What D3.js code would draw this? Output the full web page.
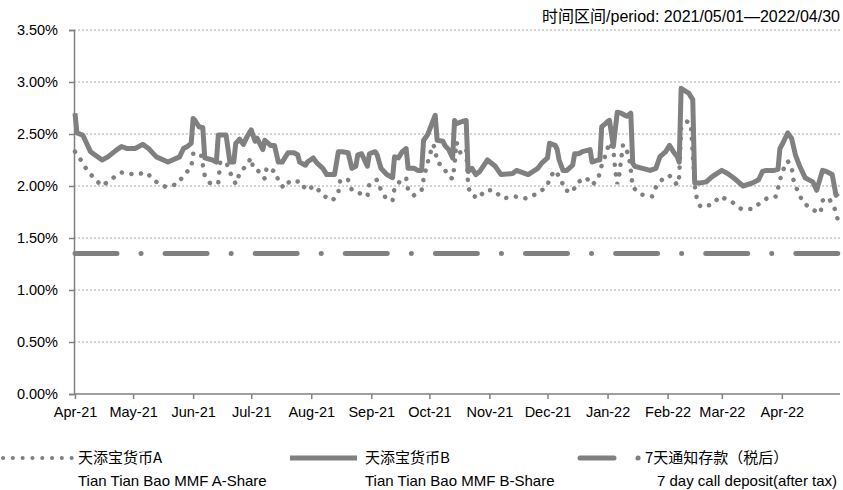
<!DOCTYPE html>
<html>
<head>
<meta charset="utf-8">
<script src="https://cdn.jsdelivr.net/npm/d3@7"></script>
<style>
    body { margin: 0; background: #fff; }
    #chart { width: 843px; height: 490px; }
    text { font-family: "Liberation Sans", "Noto Sans CJK SC", sans-serif; fill: #000; }
    .cjk { font-family: "Noto Sans CJK SC", sans-serif; }
</style>
</head>
<body>
<div id="chart"></div>
<script>

// series A: Tian Tian Bao MMF A-Share (7 day annualised, %)
const aDates = ["2021-04-01","2021-04-04","2021-04-07","2021-04-11","2021-04-15","2021-04-20","2021-04-25","2021-05-02","2021-05-08","2021-05-12",
    "2021-05-18","2021-05-24","2021-05-27","2021-05-31","2021-06-01","2021-06-05","2021-06-07","2021-06-10","2021-06-14","2021-06-15",
    "2021-06-18","2021-06-21","2021-06-23","2021-06-25","2021-06-28","2021-07-01","2021-07-02","2021-07-06","2021-07-08","2021-07-09",
    "2021-07-14","2021-07-15","2021-07-18","2021-07-21","2021-07-27","2021-07-29","2021-08-03","2021-08-07","2021-08-12","2021-08-15",
    "2021-08-16","2021-08-20","2021-08-22","2021-08-26","2021-08-30","2021-08-31","2021-09-04","2021-09-06","2021-09-09","2021-09-12",
    "2021-09-13","2021-09-16","2021-09-19","2021-09-20","2021-09-23","2021-09-27","2021-09-28","2021-10-01","2021-10-03","2021-10-04",
    "2021-10-05","2021-10-08","2021-10-11","2021-10-13","2021-10-14","2021-10-15","2021-10-17","2021-10-20","2021-10-21","2021-10-22",
    "2021-10-26","2021-10-30","2021-11-03","2021-11-08","2021-11-14","2021-11-20","2021-11-26","2021-12-01","2021-12-02","2021-12-05",
    "2021-12-08","2021-12-10","2021-12-14","2021-12-16","2021-12-21","2021-12-24","2021-12-27","2021-12-29","2021-12-31","2022-01-02",
    "2022-01-04","2022-01-05","2022-01-06","2022-01-07","2022-01-09","2022-01-12","2022-01-13","2022-01-14","2022-01-18","2022-01-24",
    "2022-01-26","2022-01-30","2022-02-02","2022-02-06","2022-02-07","2022-02-08","2022-02-11","2022-02-13","2022-02-15","2022-02-16",
    "2022-02-18","2022-02-24","2022-02-28","2022-03-06","2022-03-11","2022-03-17","2022-03-21","2022-03-25","2022-03-29","2022-03-31",
    "2022-04-01","2022-04-04","2022-04-06","2022-04-07","2022-04-09","2022-04-12","2022-04-17","2022-04-21","2022-04-22","2022-04-25",
    "2022-04-28","2022-04-30"];
const aValues = [2.33,2.25,2.16,2.07,2.00,2.07,2.13,2.11,2.13,2.05,
    1.99,2.02,2.10,2.18,2.31,2.31,2.10,2.02,2.03,2.23,
    2.23,2.09,2.02,2.12,2.19,2.27,2.17,2.13,2.07,2.18,
    2.13,2.04,1.98,2.05,2.04,1.96,2.00,1.91,1.86,1.94,
    2.06,2.06,1.96,1.93,1.90,2.02,2.06,1.96,1.87,1.86,
    1.98,2.05,2.08,1.96,1.91,1.96,2.07,2.29,2.40,2.35,
    2.23,2.19,2.09,2.07,2.20,2.42,2.32,2.36,2.01,1.93,
    1.88,1.96,1.96,1.88,1.90,1.88,1.93,2.00,2.08,2.15,
    2.06,1.96,1.94,2.03,2.08,2.01,2.06,2.20,2.30,2.42,
    2.35,2.15,2.02,2.10,2.40,2.30,2.15,1.99,1.92,1.90,
    1.99,2.08,2.10,2.01,2.09,2.55,2.62,2.60,2.01,1.89,
    1.80,1.82,1.90,1.85,1.78,1.78,1.84,1.89,1.90,2.05,
    2.13,2.24,2.19,2.06,1.96,1.84,1.77,1.74,1.86,1.89,
    1.80,1.67];

// series B: Tian Tian Bao MMF B-Share
const bDates = ["2021-04-01","2021-04-02","2021-04-05","2021-04-09","2021-04-15","2021-04-18","2021-04-22","2021-04-25","2021-04-28","2021-05-02",
    "2021-05-06","2021-05-09","2021-05-13","2021-05-19","2021-05-25","2021-05-27","2021-05-29","2021-05-31","2021-06-01","2021-06-02",
    "2021-06-04","2021-06-06","2021-06-07","2021-06-11","2021-06-13","2021-06-14","2021-06-18","2021-06-20","2021-06-22","2021-06-23",
    "2021-06-25","2021-06-27","2021-06-29","2021-07-01","2021-07-03","2021-07-04","2021-07-07","2021-07-08","2021-07-11","2021-07-13",
    "2021-07-15","2021-07-17","2021-07-20","2021-07-23","2021-07-25","2021-07-26","2021-07-29","2021-07-30","2021-08-02","2021-08-04",
    "2021-08-07","2021-08-09","2021-08-13","2021-08-15","2021-08-17","2021-08-20","2021-08-22","2021-08-24","2021-08-25","2021-08-27",
    "2021-08-29","2021-08-30","2021-08-31","2021-09-03","2021-09-04","2021-09-06","2021-09-09","2021-09-12","2021-09-13","2021-09-15",
    "2021-09-17","2021-09-19","2021-09-20","2021-09-23","2021-09-25","2021-09-27","2021-09-28","2021-09-30","2021-10-04","2021-10-05",
    "2021-10-08","2021-10-09","2021-10-11","2021-10-13","2021-10-14","2021-10-15","2021-10-18","2021-10-20","2021-10-21","2021-10-23",
    "2021-10-25","2021-10-27","2021-10-31","2021-11-04","2021-11-07","2021-11-13","2021-11-15","2021-11-21","2021-11-26","2021-11-28",
    "2021-12-01","2021-12-02","2021-12-05","2021-12-06","2021-12-07","2021-12-09","2021-12-11","2021-12-14","2021-12-15","2021-12-17",
    "2021-12-19","2021-12-21","2021-12-23","2021-12-24","2021-12-27","2021-12-28","2021-12-29","2021-12-31","2022-01-01","2022-01-02",
    "2022-01-04","2022-01-06","2022-01-08","2022-01-11","2022-01-13","2022-01-14","2022-01-15","2022-01-19","2022-01-23","2022-01-26",
    "2022-01-28","2022-01-31","2022-02-02","2022-02-04","2022-02-06","2022-02-07","2022-02-08","2022-02-12","2022-02-14","2022-02-15",
    "2022-02-18","2022-02-21","2022-02-24","2022-03-01","2022-03-04","2022-03-07","2022-03-12","2022-03-17","2022-03-20","2022-03-22",
    "2022-03-24","2022-03-28","2022-03-30","2022-03-31","2022-04-02","2022-04-04","2022-04-06","2022-04-08","2022-04-10","2022-04-13",
    "2022-04-17","2022-04-19","2022-04-22","2022-04-24","2022-04-27","2022-04-29","2022-04-30"];
const bValues = [2.70,2.51,2.49,2.33,2.25,2.28,2.34,2.38,2.36,2.36,
    2.40,2.36,2.28,2.23,2.28,2.36,2.38,2.41,2.65,2.63,
    2.57,2.56,2.27,2.25,2.23,2.49,2.49,2.23,2.23,2.41,
    2.45,2.40,2.48,2.54,2.43,2.46,2.35,2.44,2.39,2.39,
    2.23,2.23,2.32,2.32,2.30,2.23,2.20,2.23,2.27,2.22,
    2.17,2.11,2.11,2.33,2.33,2.32,2.17,2.19,2.30,2.31,
    2.23,2.19,2.31,2.33,2.30,2.17,2.11,2.08,2.28,2.27,
    2.33,2.36,2.17,2.17,2.15,2.15,2.44,2.49,2.68,2.44,
    2.43,2.39,2.35,2.27,2.63,2.60,2.62,2.63,2.14,2.17,
    2.11,2.14,2.25,2.19,2.11,2.12,2.15,2.11,2.17,2.22,
    2.27,2.41,2.39,2.35,2.25,2.15,2.15,2.20,2.31,2.31,
    2.33,2.34,2.35,2.23,2.25,2.25,2.57,2.60,2.62,2.63,
    2.38,2.71,2.70,2.67,2.70,2.22,2.19,2.17,2.15,2.17,
    2.28,2.33,2.39,2.33,2.28,2.23,2.94,2.89,2.83,2.03,
    2.03,2.04,2.09,2.15,2.12,2.08,2.00,2.03,2.06,2.14,
    2.15,2.15,2.16,2.36,2.43,2.51,2.46,2.30,2.20,2.08,
    2.04,1.96,2.15,2.14,2.11,1.91,1.93];

// 7 day call deposit (after tax), flat
const callDates = ["2021-04-01", "2022-04-30"];
const callValues = [1.35, 1.35];

const yTicks = [0, 0.5, 1, 1.5, 2, 2.5, 3, 3.5];

const legendItems = [
    {cn: "天添宝货币A", en: "Tian Tian Bao MMF A-Share", key: "a"},
    {cn: "天添宝货币B", en: "Tian Tian Bao MMF B-Share", key: "b"},
    {cn: "7天通知存款（税后）", en: "7 day call deposit(after tax)", key: "c"}
];

const parse = d3.timeParse("%Y-%m-%d");
const seriesA = aDates.map((d, i) => ({date: parse(d), v: aValues[i]}));
const seriesB = bDates.map((d, i) => ({date: parse(d), v: bValues[i]}));
const seriesC = callDates.map((d, i) => ({date: parse(d), v: callValues[i]}));

const width = 843;
const height = 490;
const margin = {top: 30, left: 74, right: 5, bottom: 96};
const grey = "#808080";

const canvas = d3.select("#chart")
    .append("svg")
    .attr("width", width)
    .attr("height", height);

const xScale = d3.scaleTime()
    .domain([parse("2021-04-01"), parse("2022-04-30")])
    .range([75, 838]);

const yScale = d3.scaleLinear()
    .domain([0, 3.5])
    .range([height - margin.bottom, margin.top]);

/* gridlines */
canvas.append("g")
    .selectAll("line")
    .data(yTicks.filter(d => d > 0))
    .enter()
    .append("line")
        .attr("x1", margin.left)
        .attr("x2", 840)
        .attr("y1", d => yScale(d))
        .attr("y2", d => yScale(d))
        .attr("stroke", "#a6a6a6")
        .attr("stroke-width", 1)
        .attr("stroke-dasharray", "2,2");

/* axes */
const yAxis = canvas.append("g")
    .attr("transform", `translate(${margin.left},0)`)
    .call(d3.axisLeft(yScale).tickValues(yTicks).tickSize(5).tickPadding(11)
        .tickFormat(d => d3.format(".2f")(d) + "%"));

const xAxis = canvas.append("g")
    .attr("transform", `translate(0,${height - margin.bottom})`)
    .call(d3.axisBottom(xScale).ticks(d3.timeMonth.every(1)).tickSize(5).tickPadding(8)
        .tickFormat(d3.timeFormat("%b-%y")));

xAxis.select(".domain").attr("d", `M${margin.left},0H840`);

canvas.selectAll(".domain, .tick line")
    .attr("stroke", grey)
    .attr("stroke-width", 1.5);

canvas.selectAll(".tick text")
    .attr("fill", "#000")
    .style("font-size", "14.5px");

/* lines */
const line = d3.line()
    .x(d => xScale(d.date))
    .y(d => yScale(d.v));

canvas.append("path")
    .datum(seriesC)
    .attr("d", line)
    .attr("fill", "none")
    .attr("stroke", grey)
    .attr("stroke-width", 5)
    .attr("stroke-linecap", "round")
    .attr("stroke-dasharray", "42,24,0.1,24");

canvas.append("path")
    .datum(seriesB)
    .attr("d", line)
    .attr("fill", "none")
    .attr("stroke", grey)
    .attr("stroke-width", 5)
    .attr("stroke-linejoin", "round");

canvas.append("path")
    .datum(seriesA)
    .attr("d", line)
    .attr("fill", "none")
    .attr("stroke", grey)
    .attr("stroke-width", 4.5)
    .attr("stroke-linecap", "round")
    .attr("stroke-dasharray", "0.1,9.6");

/* title */
canvas.append("text")
    .attr("x", 840)
    .attr("y", 22)
    .attr("text-anchor", "end")
    .style("font-size", "16px")
    .html('<tspan class="cjk">时间区间</tspan>/period: 2021/05/01—2022/04/30');

/* legend */
const legendX = [0, 287, 577];
const legend = canvas.append("g");

legendItems.forEach(function(item, i) {
    const g = legend.append("g").attr("transform", `translate(${legendX[i]},0)`);
    if (item.key === "a") {
        g.append("line").attr("x1", 3).attr("x2", 73).attr("y1", 458).attr("y2", 458)
            .attr("stroke", grey).attr("stroke-width", 4).attr("stroke-linecap", "round")
            .attr("stroke-dasharray", "0.1,9.7");
    } else if (item.key === "b") {
        g.append("line").attr("x1", 3).attr("x2", 70).attr("y1", 458).attr("y2", 458)
            .attr("stroke", grey).attr("stroke-width", 5);
    } else {
        g.append("line").attr("x1", 3).attr("x2", 62).attr("y1", 458).attr("y2", 458)
            .attr("stroke", grey).attr("stroke-width", 5).attr("stroke-linecap", "round")
            .attr("stroke-dasharray", "34,24,0.1,30");
    }
    const tx1 = item.key === "c" ? 68 : 78;
    const tx2 = item.key === "c" ? 80 : 78;
    g.append("text")
        .attr("class", "cjk")
        .attr("x", tx1)
        .attr("y", 463)
        .style("font-size", "15px")
        .text(item.cn);
    g.append("text")
        .attr("x", tx2)
        .attr("y", 486)
        .style("font-size", "15px")
        .text(item.en);
});

</script>
</body>
</html>
